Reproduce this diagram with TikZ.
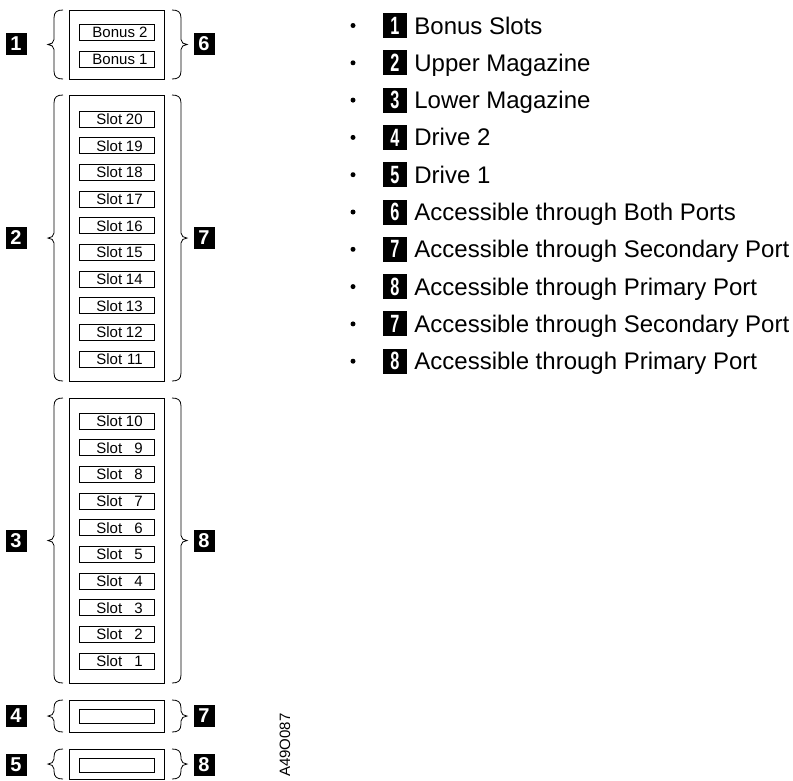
\documentclass[tikz,border=0pt]{standalone}
\usepackage{fontspec}
\setmainfont{Liberation Sans}
\newcommand\myLBr[2]{%
  \pgfmathsetmacro\ym{(#1+#2)/2}%
  \draw (63,#1) .. controls (57,#1) and (54,#1+2) .. (54,#1+8) -- (54,\ym-5)
        .. controls (54,\ym-2) and (51,\ym) .. (48,\ym)
        .. controls (51,\ym) and (54,\ym+2) .. (54,\ym+5) -- (54,#2-8)
        .. controls (54,#2-2) and (57,#2) .. (63,#2);}
\newcommand\myRBr[2]{%
  \pgfmathsetmacro\ym{(#1+#2)/2}%
  \draw (172,#1) .. controls (178,#1) and (181,#1+2) .. (181,#1+8) -- (181,\ym-5)
        .. controls (181,\ym-2) and (184,\ym) .. (187,\ym)
        .. controls (184,\ym) and (181,\ym+2) .. (181,\ym+5) -- (181,#2-8)
        .. controls (181,#2-2) and (178,#2) .. (172,#2);}
\begin{document}
\begin{tikzpicture}[x=1pt,y=-1pt,line width=0.8pt,
  outerbox/.style={draw,inner sep=0pt,minimum width=95pt},
  slotbox/.style={draw,inner sep=0pt,minimum width=75pt,minimum height=16pt},
  drivebox/.style={draw,inner sep=0pt,minimum width=75pt,minimum height=14pt},
  slottxt/.style={inner sep=0pt,font=\fontsize{15}{17}\selectfont},
  tag/.style={fill=black,text=white,inner sep=0pt,minimum width=21pt,minimum height=22pt,font=\fontsize{20}{20}\selectfont\bfseries},
  ltag/.style={fill=black,text=white,inner sep=0pt,minimum width=24pt,minimum height=25pt,font=\fontsize{25}{25}\selectfont\bfseries},
  listtxt/.style={inner sep=0pt,anchor=base west,font=\fontsize{24}{28}\selectfont},
  dot/.style={circle,fill=black,inner sep=0pt,minimum size=5pt}]
\useasboundingbox (0,0) rectangle (793,780);

% Bonus slots
\node[outerbox,minimum height=69pt] (box1) at (116.5,44.5) {};
\node[slotbox] (b2) at (116.5,32) {};
\node[slotbox] (b1) at (116.5,59) {};
\node[slottxt] at (120,32) {Bonus 2};
\node[slottxt] at (120,59) {Bonus 1};
\myLBr{10}{79}\myRBr{10}{79}
\node[tag] (t1) at (16,43.5) {1};
\node[tag] (t6) at (204,43.5) {6};

% Upper magazine
\node[outerbox,minimum height=286pt] (box2) at (116.5,238) {};
\foreach \k in {11,...,20}{
  \pgfmathsetmacro\t{111+26.667*(20-\k)}
  \node[slotbox] (s\k) at (116.5,\t+8) {};
  \node[slottxt,anchor=base west] at (96,\t+13.4) {Slot};
  \node[slottxt,anchor=base east] at (143,\t+13.4) {\k};
}
\myLBr{95}{381}\myRBr{95}{381}
\node[tag] (t2) at (16,237.5) {2};
\node[tag] (t7a) at (204,237.5) {7};

% Lower magazine
\node[outerbox,minimum height=285pt] (box3) at (116.5,540.5) {};
\foreach \k in {1,...,10}{
  \pgfmathsetmacro\t{413+26.667*(10-\k)}
  \node[slotbox] (s\k) at (116.5,\t+8) {};
  \node[slottxt,anchor=base west] at (96,\t+13.4) {Slot};
  \node[slottxt,anchor=base east] at (143,\t+13.4) {\k};
}
\myLBr{398}{683}\myRBr{398}{683}
\node[tag] (t3) at (16,540.5) {3};
\node[tag] (t8a) at (204,540.5) {8};

% Drives
\node[outerbox,minimum height=32pt] (d2) at (116.5,716) {};
\node[drivebox] (d2s) at (116.5,716.5) {};
\myLBr{700}{732}\myRBr{700}{732}
\node[tag] (t4) at (16,716) {4};
\node[tag] (t7b) at (204,716) {7};

\node[outerbox,minimum height=30pt] (d1) at (116.5,764) {};
\node[drivebox] (d1s) at (116.5,765.5) {};
\myLBr{749}{779}\myRBr{749}{779}
\node[tag] (t5) at (16,765) {5};
\node[tag] (t8b) at (204,765) {8};

\node[slottxt,rotate=90] (code) at (285,745) {A49O087};

% Legend
\foreach \i/\n/\txt in {0/1/Bonus Slots,1/2/Upper Magazine,2/3/Lower Magazine,3/4/Drive 2,4/5/Drive 1,5/6/Accessible through Both Ports,6/7/Accessible through Secondary Port,7/8/Accessible through Primary Port,8/7/Accessible through Secondary Port,9/8/Accessible through Primary Port}{
  \pgfmathsetmacro\yc{25.5+37.3*\i}
  \node[dot] (bul\i) at (353,\yc) {};
  \node[ltag] (lt\i) at (395,\yc) {\scalebox{0.65}[1]{\n}};
  \node[listtxt] (lx\i) at (414,\yc+8.5) {\txt};
}
\end{tikzpicture}
\end{document}
